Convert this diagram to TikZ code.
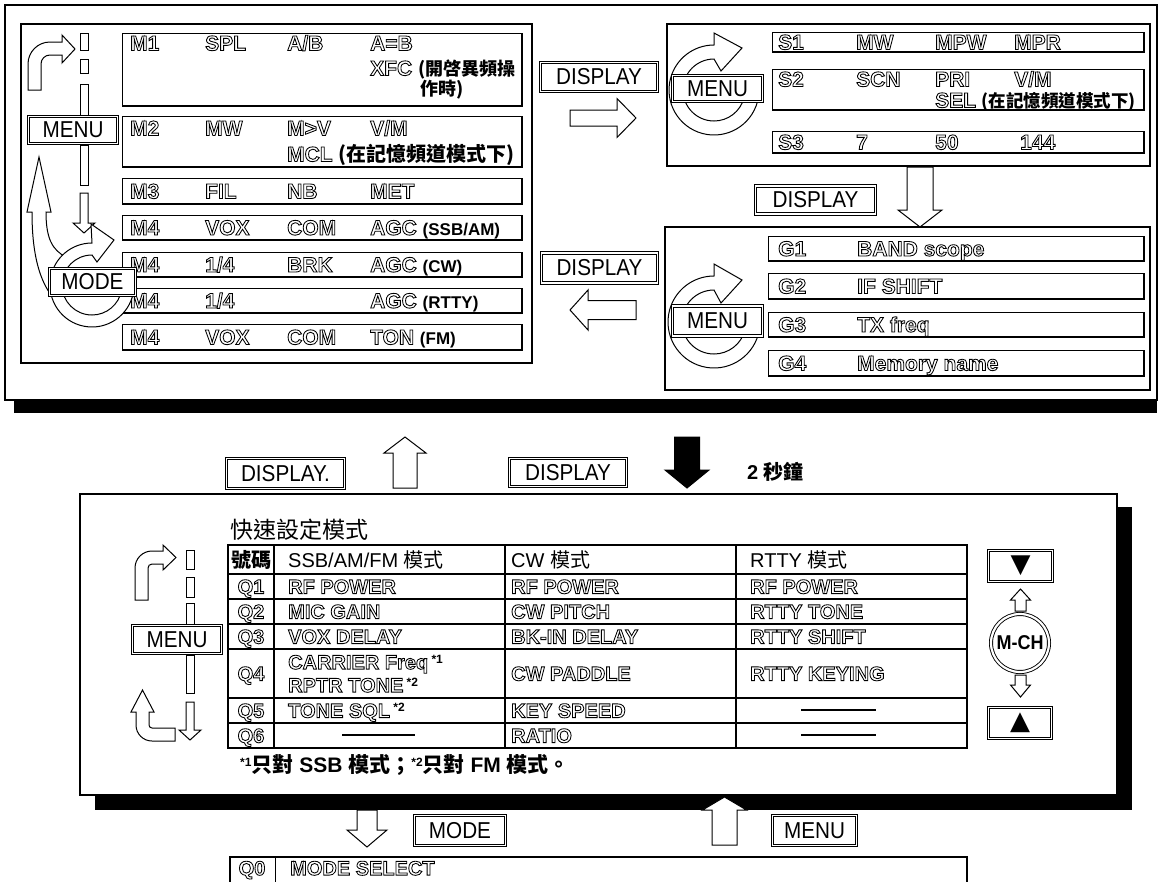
\documentclass[tikz,border=0pt]{standalone}
\usepackage{fontspec}
\setmainfont{Liberation Sans}
\newfontfamily\btnfont[FakeStretch=0.9]{Liberation Sans}
\newfontfamily\cjk{Noto Sans CJK TC}
\newfontfamily\symfont{DejaVu Sans}
\makeatletter
\newcommand\lcd[1]{\pgfsys@invoke{ 1 Tr 0.85 w }#1\pgfsys@invoke{ 0 Tr }}
\makeatother
\newcommand\arrV[7]{\draw[#1] ({#2-#6},#3) -- ({#2+#6},#3) -- ({#2+#6},#4) -- ({#2+#7},#4) -- (#2,#5) -- ({#2-#7},#4) -- ({#2-#6},#4) -- cycle;}
\newcommand\arrH[7]{\draw[#1] (#3,{#2-#6}) -- (#3,{#2+#6}) -- (#4,{#2+#6}) -- (#4,{#2+#7}) -- (#5,#2) -- (#4,{#2-#7}) -- (#4,{#2-#6}) -- cycle;}
\newcommand\rbox[4]{\draw[rowbox] (#1,#2) rectangle (#3,#4); \draw[rowedge] (#1,#4) -- (#3,#4) -- (#3,#2);}
\newcommand\lt[4]{\node[lcdt] (#1) at (#2,#3) {\lcd{#4}};}
\newcommand\qt[4]{\node[lcdq] (#1) at (#2,#3) {\lcd{#4}};}
\newcommand\qc[4]{\node[lcdq,anchor=center] (#1) at (#2,#3) {\lcd{#4}};}
\newcommand\cjb[2]{{\cjk\bfseries\fontsize{#1}{#1}\selectfont #2}}
\newcommand\smb[1]{{\bfseries\fontsize{17}{17}\selectfont #1}}
\newcommand\supx[1]{\raisebox{6pt}{\bfseries\fontsize{12}{12}\selectfont #1}}
\tikzset{
  frame/.style={draw, line width=1.3pt},
  panel/.style={draw, line width=1.2pt},
  rowbox/.style={draw, line width=1pt},
  rowedge/.style={draw, line width=1.8pt},
  harrow/.style={draw, fill=white, line width=1pt, line join=miter},
  farrow/.style={draw, fill=black, line width=1pt},
  btn/.style={draw, double, double distance=1.6pt, line width=0.8pt, fill=white, inner sep=0pt, font=\btnfont\fontsize{23}{23}\selectfont},
  lcdt/.style={anchor=west, inner sep=0pt, text height=15pt, text depth=0pt, font=\bfseries\fontsize{21}{21}\selectfont},
  lcdq/.style={anchor=west, inner sep=0pt, text height=14.3pt, text depth=0pt, font=\bfseries\fontsize{20}{20}\selectfont},
  cjkt/.style={anchor=west, inner sep=0pt},
  dashln/.style={draw, line width=1.3pt}
}
\begin{document}
\begin{tikzpicture}[x=1pt,y=-1pt]
\useasboundingbox (0,0) rectangle (1162,881);
\fill[white] (0,0) rectangle (1162,881);
% ================= TOP FRAME =================
\fill[black] (14,400) rectangle (1157,413);
\draw[frame] (5,5) rectangle (1157,400);
% ---- M panel
\draw[panel] (21,24) rectangle (532,363);
\rbox{122}{33}{522}{106}
\rbox{122}{116}{522}{167}
\rbox{122}{178}{522}{204}
\rbox{122}{215}{522}{240}
\rbox{122}{252}{522}{277}
\rbox{122}{288}{522}{313}
\rbox{122}{324}{522}{350}
\lt{m1a}{130}{43}{M1} \lt{m1b}{205}{43}{SPL} \lt{m1c}{287}{43}{A/B} \lt{m1d}{370}{43}{A=B}
\node[lcdt] (m1e) at (370,68) {\lcd{XFC} \cjb{18}{(開啓異頻操}};
\node[cjkt] (m1f) at (420,90) {\cjb{18}{作時)}};
\lt{m2a}{130}{128}{M2} \lt{m2b}{205}{128}{MW} \lt{m2c}{287}{128}{M>V} \lt{m2d}{370}{128}{V/M}
\node[lcdt] (m2e) at (287,154) {\lcd{MCL} \cjb{20}{(在記憶頻道模式下)}};
\lt{m3a}{130}{191}{M3} \lt{m3b}{205}{191}{FIL} \lt{m3c}{287}{191}{NB} \lt{m3d}{370}{191}{MET}
\lt{m4a}{130}{227.5}{M4} \lt{m4b}{205}{227.5}{VOX} \lt{m4c}{287}{227.5}{COM}
\node[lcdt] (m4d) at (370,227.5) {\lcd{AGC} \smb{(SSB/AM)}};
\lt{m5a}{130}{264.5}{M4} \lt{m5b}{205}{264.5}{1/4} \lt{m5c}{287}{264.5}{BRK}
\node[lcdt] (m5d) at (370,264.5) {\lcd{AGC} \smb{(CW)}};
\lt{m6a}{130}{300.5}{M4} \lt{m6b}{205}{300.5}{1/4}
\node[lcdt] (m6d) at (370,300.5) {\lcd{AGC} \smb{(RTTY)}};
\lt{m7a}{130}{337}{M4} \lt{m7b}{205}{337}{VOX} \lt{m7c}{287}{337}{COM}
\node[lcdt] (m7d) at (370,337) {\lcd{TON} \smb{(FM)}};
% ladder
\draw[rowbox,fill=white] (80,33) rectangle (88,50);
\draw[rowbox,fill=white] (80,59) rectangle (88,73);
\draw[rowbox,fill=white] (80,84) rectangle (88,115);
\draw[rowbox,fill=white] (80,145) rectangle (88,185);
\arrV{harrow}{84}{193}{223}{233}{4}{11}
% bent arrow top-left
\draw[harrow] (28,90) -- (28,64) arc[start angle=180,end angle=270,radius=22] -- (62,42) -- (62,35) -- (75,49) -- (62,63) -- (62,55) -- (50,55) arc[start angle=270,end angle=180,radius=9] -- (41,90) -- cycle;
% up arrow from ring to MENU
\draw[harrow] (27,212) -- (39,157) -- (51,212) -- (46,212) .. controls (46,238) and (52,250) .. (66,257) -- (58,292) -- (49,292) .. controls (38,275) and (32,250) .. (32,212) -- cycle;
% ring round MODE
\draw[harrow] (92,285) ++(10:42) arc[start angle=10,end angle=270,radius=42] -- (91,224) -- (114,240) -- (97,262) -- (92,255) arc[start angle=270,end angle=10,radius=30] -- cycle;
\node[btn, minimum width=89pt, minimum height=27pt] (menuM) at (73,130) {MENU};
\node[btn, minimum width=86pt, minimum height=27pt] (modeM) at (92.5,282) {MODE};
% ---- DISPLAY right
\node[btn, minimum width=117pt, minimum height=29pt] (disp1) at (599,77) {DISPLAY};
\arrH{harrow}{118}{570}{617}{636}{8}{19.5}
% ---- S panel
\draw[panel] (667,24) rectangle (1150,166);
\rbox{772}{32}{1144}{52}
\rbox{772}{69}{1144}{110}
\rbox{772}{131}{1144}{153}
\lt{s1a}{778}{42}{S1} \lt{s1b}{856}{42}{MW} \lt{s1c}{935}{42}{MPW} \lt{s1d}{1014}{42}{MPR}
\lt{s2a}{778}{79}{S2} \lt{s2b}{856}{79}{SCN} \lt{s2c}{935}{79}{PRI} \lt{s2d}{1014}{79}{V/M}
\node[lcdt] (s2e) at (935,100) {\lcd{SEL} \cjb{17.5}{(在記憶頻道模式下)}};
\lt{s3a}{778}{142}{S3} \lt{s3b}{856}{142}{7} \lt{s3c}{935}{142}{50} \lt{s3d}{1020}{142}{144}
\draw[harrow] (714,90) ++(15:45) arc[start angle=15,end angle=270,radius=45] -- (714,33) -- (742,48) -- (721,71) -- (714,59) arc[start angle=270,end angle=15,radius=31] -- cycle;
\node[btn, minimum width=90pt, minimum height=26pt] (menuS) at (717.5,88.5) {MENU};
% ---- DISPLAY down
\node[btn, minimum width=120pt, minimum height=28pt] (disp2) at (815.5,200) {DISPLAY};
\arrV{harrow}{920}{167}{210}{227}{13}{22}
% ---- G panel
\draw[panel] (665,227) rectangle (1150,390);
\rbox{768}{236}{1144}{261}
\rbox{768}{273}{1144}{299}
\rbox{768}{312}{1144}{337}
\rbox{768}{350}{1144}{376}
\lt{g1a}{778}{248.5}{G1} \lt{g1b}{857}{248.5}{BAND scope}
\lt{g2a}{778}{286}{G2} \lt{g2b}{857}{286}{IF SHIFT}
\lt{g3a}{778}{324.5}{G3} \lt{g3b}{857}{324.5}{TX freq}
\lt{g4a}{778}{363}{G4} \lt{g4b}{857}{363}{Memory name}
\draw[harrow] (714,322) ++(15:46) arc[start angle=15,end angle=270,radius=46] -- (714,264) -- (742,280) -- (721,303) -- (714,290) arc[start angle=270,end angle=15,radius=32] -- cycle;
\node[btn, minimum width=90pt, minimum height=30pt] (menuG) at (717.5,321) {MENU};
% ---- DISPLAY left
\node[btn, minimum width=116pt, minimum height=30pt] (disp3) at (599.5,268) {DISPLAY};
\arrH{harrow}{310}{636}{588}{570}{9.5}{20}
% ================= between =================
\node[btn, minimum width=118pt, minimum height=30pt] (disp4) at (285.5,473.5) {DISPLAY.};
\arrV{harrow}{405}{488}{453}{437}{12}{21}
\node[btn, minimum width=117pt, minimum height=28pt] (disp5) at (568,472.5) {DISPLAY};
\arrV{farrow}{687}{437}{470}{488}{12.5}{22}
\node[cjkt] (sec) at (747,472) {\bfseries\fontsize{20}{20}\selectfont 2 {\cjk 秒鐘}};
% ================= MIDDLE FRAME =================
\fill[black] (1117,507) rectangle (1132,810);
\fill[black] (95,795) rectangle (1132,810);
\draw[frame, fill=white] (80,494) rectangle (1117,795);
\node[cjkt] (title) at (230,530) {\cjk\fontsize{23}{23}\selectfont 快速設定模式};
% table
\draw[line width=1.4pt] (228,545) rectangle (967,748);
\foreach \yy in {574,599,624,649,698,723} \draw[line width=1.2pt] (228,\yy) -- (967,\yy);
\foreach \xx in {274,505,736} \draw[line width=1.1pt] (\xx,545) -- (\xx,748);
\node[anchor=center, inner sep=0pt] (h0) at (251,559.5) {\cjb{20}{號碼}};
\node[cjkt] (h1) at (288,559.5) {\fontsize{20}{20}\selectfont SSB/AM/FM {\cjk 模式}};
\node[cjkt] (h2) at (511,559.5) {\fontsize{20}{20}\selectfont CW {\cjk 模式}};
\node[cjkt] (h3) at (750,559.5) {\fontsize{20}{20}\selectfont RTTY {\cjk 模式}};
\qc{q1}{251}{586.5}{Q1} \qt{q1a}{288}{586.5}{RF POWER} \qt{q1b}{511}{586.5}{RF POWER} \qt{q1c}{750}{586.5}{RF POWER}
\qc{q2}{251}{611.5}{Q2} \qt{q2a}{288}{611.5}{MIC GAIN} \qt{q2b}{511}{611.5}{CW PITCH} \qt{q2c}{750}{611.5}{RTTY TONE}
\qc{q3}{251}{636.5}{Q3} \qt{q3a}{288}{636.5}{VOX DELAY} \qt{q3b}{511}{636.5}{BK-IN DELAY} \qt{q3c}{750}{636.5}{RTTY SHIFT}
\qc{q4}{251}{673.5}{Q4}
\node[lcdq] (q4a) at (288,662) {\lcd{CARRIER Freq}\,\supx{*1}};
\node[lcdq] (q4b) at (288,685) {\lcd{RPTR TONE}\,\supx{*2}};
\qt{q4c}{511}{673.5}{CW PADDLE} \qt{q4d}{750}{673.5}{RTTY KEYING}
\qc{q5}{251}{710.5}{Q5}
\node[lcdq] (q5a) at (288,710.5) {\lcd{TONE SQL}\,\supx{*2}};
\qt{q5b}{511}{710.5}{KEY SPEED}
\draw[dashln] (801,710) -- (876,710);
\qc{q6}{251}{735.5}{Q6}
\draw[dashln] (342,735) -- (415,735);
\qt{q6b}{511}{735.5}{RATIO}
\draw[dashln] (801,735) -- (876,735);
% right controls
\node[btn, minimum width=64pt, minimum height=31pt, font=\symfont\fontsize{26}{26}\selectfont] (dnbtn) at (1020.5,566) {▼};
\arrV{harrow}{1020.5}{611}{600}{589}{5.5}{10}
\node[circle, draw, double, double distance=2.2pt, line width=0.9pt, minimum size=58pt, inner sep=0pt, fill=white, font=\btnfont\bfseries\fontsize{20}{20}\selectfont] (mch) at (1020,643) {M-CH};
\arrV{harrow}{1020.5}{675}{685}{697}{5.5}{10}
\node[btn, minimum width=63pt, minimum height=31pt, font=\symfont\fontsize{26}{26}\selectfont] (upbtn) at (1020,723) {▲};
% left ladder
\draw[rowbox,fill=white] (186,550) rectangle (194,569);
\draw[rowbox,fill=white] (186,577) rectangle (194,597);
\draw[rowbox,fill=white] (186,603) rectangle (194,624);
\draw[rowbox,fill=white] (186,655) rectangle (194,693);
\arrV{harrow}{190}{702}{730}{740}{4}{11}
\draw[harrow] (135,600) -- (135,568) arc[start angle=180,end angle=270,radius=17] -- (163,551) -- (163,545) -- (176,557.5) -- (163,570) -- (163,564) -- (152,564) arc[start angle=270,end angle=180,radius=4] -- (148,600) -- cycle;
\draw[harrow] (175,741) -- (152,741) arc[start angle=90,end angle=180,radius=16] -- (136,712) -- (131,712) -- (142.5,690) -- (154,712) -- (149,712) -- (149,725) arc[start angle=180,end angle=90,radius=3] -- (175,728) -- cycle;
\node[btn, minimum width=89pt, minimum height=28pt] (menuQ) at (177,639.5) {MENU};
% footnote
\node[cjkt] (fn) at (240,765) {\bfseries\fontsize{21}{21}\selectfont\supx{*1}{\cjk 只對} SSB {\cjk 模式；}\supx{*2}{\cjk 只對} FM {\cjk 模式。}};
% ================= BOTTOM =================
\arrV{harrow}{367}{810}{830}{847}{10}{20}
\node[btn, minimum width=91pt, minimum height=30pt] (modeB) at (460,830.5) {MODE};
\arrV{harrow}{724.5}{845}{810}{797}{12.5}{22}
\node[btn, minimum width=84pt, minimum height=30pt] (menuB) at (814.5,830.5) {MENU};
\draw[line width=1.6pt] (230,890) -- (230,857) -- (967,857) -- (967,890);
\draw[rowbox] (275,857) -- (275,890);
\qc{q0}{252}{868}{Q0} \qt{q0a}{290}{868}{MODE SELECT}
\end{tikzpicture}
\end{document}
